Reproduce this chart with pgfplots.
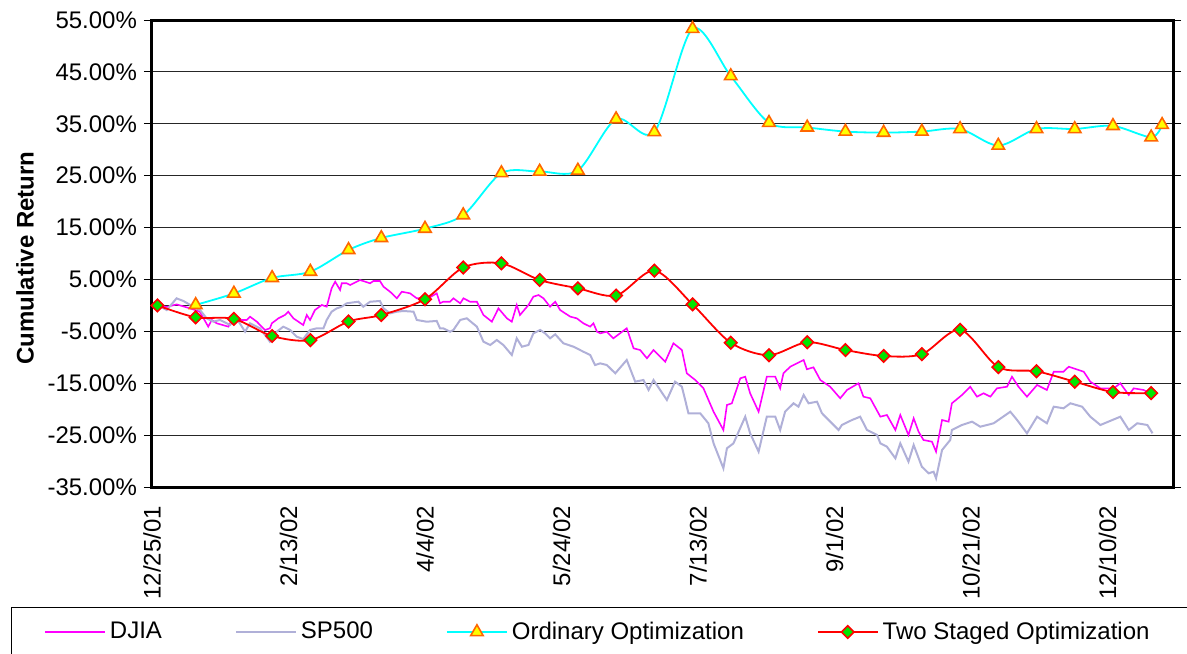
\documentclass[border=0pt]{standalone}
\usepackage{fontspec}
\setmainfont{Liberation Sans}
\usepackage{pgfplots}
\pgfplotsset{compat=1.18}
\definecolor{djia}{RGB}{255,0,255}
\definecolor{spx}{RGB}{176,176,216}
\definecolor{ordc}{RGB}{0,255,255}
\definecolor{triyel}{RGB}{255,255,0}
\definecolor{triorg}{RGB}{255,102,0}
\definecolor{twoc}{RGB}{255,0,0}
\definecolor{dgreen}{RGB}{0,230,0}
\pgfplotsset{
  lineleg/.style={legend image code/.code={\draw[##1] (0pt,0pt) -- (30pt,0pt);}},
  markleg/.style={legend image code/.code={\draw[mark repeat=2,mark phase=2,##1] plot coordinates {(0pt,0pt) (15pt,0pt) (30pt,0pt)};}},
}
\begin{document}
\begin{tikzpicture}
\begin{axis}[
  at={(0,0)}, anchor=south west,
  scale only axis, width=510.5pt, height=233.5pt,
  xmin=0, xmax=374, ymin=-35, ymax=55,
  xtick={0,50,100,150,200,250,300,350},
  xticklabels={12/25/01,2/13/02,4/4/02,5/24/02,7/13/02,9/1/02,10/21/02,12/10/02},
  ytick={-35,-25,-15,-5,5,15,25,35,45,55},
  yticklabels={-35.00\%,-25.00\%,-15.00\%,-5.00\%,5.00\%,15.00\%,25.00\%,35.00\%,45.00\%,55.00\%},
  ymajorgrids, major grid style={black!85, line width=0.5pt},
  extra y ticks={0}, extra y tick labels={}, extra y tick style={major tick length=0pt, grid=major},
  axis line style={line width=1.5pt},
  tick align=outside,
  major tick length=4pt,
  ytick style={black, line width=0.5pt},
  xtick style={draw=none},
  tick label style={font=\fontsize{12}{14}\selectfont},
  xticklabel style={yshift=-2pt, rotate=90, anchor=east},
  ylabel={Cumulative Return},
  ylabel style={font=\fontsize{12}{14}\selectfont\bfseries, at={(axis description cs:-0.1244,0.49)}, anchor=center},
  legend columns=4,
  legend style={at={(-0.1058,-0.3105)}, anchor=west, draw=none, fill=none, inner sep=0pt,
    font=\fontsize{12}{14}\selectfont,
    /tikz/every even column/.append style={column sep=34.5pt}},
  legend cell align=left,
]
\addplot[djia, line width=0.8pt, lineleg] table {
2.3 -0.05
5.5 -0.3
9.0 0.2
13.9 -0.57
17.5 -1.2
20.6 -4.10
21.9 -2.81
23.7 -3.45
28.0 -4.10
29.2 -2.81
34.7 -2.81
35.9 -2.17
38.4 -3.14
41.4 -4.74
43.2 -4.42
43.9 -3.45
46.3 -2.49
48.7 -1.85
49.9 -1.21
51.8 -2.49
55.4 -3.78
56.7 -1.85
57.9 -2.81
59.7 -0.89
62.2 0.08
64.0 -0.25
65.8 3.30
67.1 4.57
68.9 2.97
69.5 4.26
71.3 4.26
72.6 3.93
76.2 4.89
79.9 4.26
81.1 4.70
83.5 4.70
84.8 3.60
87.2 2.64
89.7 1.37
91.5 2.64
94.5 2.33
97.0 1.37
98.2 1.37
101.2 1.37
104.3 2.33
105.5 0.40
106.7 0.71
109.2 0.71
110.4 1.37
112.9 0.40
114.1 1.37
116.5 0.71
119.0 0.71
121.4 -1.85
124.5 -3.14
126.9 -0.57
130.0 -2.49
131.8 -3.14
133.6 0.08
134.8 -1.85
137.9 0.08
139.7 1.68
141.6 2.00
143.4 1.37
145.8 -0.25
147.7 0.71
149.5 -0.89
153.2 -2.17
155.6 -2.49
158.0 -3.45
160.5 -4.10
161.7 -3.45
163.0 -5.07
164.2 -5.38
166.6 -5.07
169.0 -6.34
173.9 -4.41
176.4 -8.27
178.8 -8.60
181.3 -10.19
183.7 -8.60
188.0 -10.85
191.0 -7.30
194.1 -8.60
195.9 -13.09
199.0 -14.38
202.0 -15.98
205.7 -20.49
209.3 -24.01
210.6 -19.19
212.4 -18.87
215.5 -14.05
217.3 -13.74
219.1 -16.94
222.2 -20.49
225.2 -13.74
228.3 -13.74
230.1 -15.98
231.3 -13.09
233.8 -11.81
238.7 -10.52
239.9 -12.31
242.3 -11.93
244.8 -14.38
248.4 -15.67
252.1 -17.90
254.6 -16.30
258.8 -15.01
260.6 -17.59
263.1 -17.90
266.8 -21.45
269.2 -21.12
272.3 -24.01
274.1 -21.12
277.1 -24.98
279.0 -21.76
280.8 -24.34
282.6 -25.94
285.7 -26.27
287.2 -28.19
289.4 -22.09
291.8 -22.41
293.0 -18.87
296.7 -17.27
299.7 -15.67
302.2 -17.59
304.6 -16.94
307.1 -17.59
309.5 -15.98
313.2 -15.67
315.0 -13.74
317.4 -15.67
320.5 -17.59
324.2 -15.34
327.8 -16.30
330.3 -12.78
333.9 -12.78
335.8 -11.81
341.3 -12.78
343.7 -14.70
347.4 -15.98
352.3 -15.98
354.7 -15.01
357.8 -17.27
359.6 -15.98
363.2 -16.30
365.7 -16.94
};
\addlegendentry{DJIA}
\addplot[spx, line width=1pt, lineleg] table {
2.3 0
5.4 -0.89
9.0 1.36
11.5 0.85
15.1 -0.25
17.6 -0.89
20.0 -2.49
22.5 -3.14
24.9 -2.81
28.6 -3.78
31.0 -2.49
34.1 -5.07
35.9 -3.45
39.6 -4.42
43.2 -6.99
45.7 -5.07
48.1 -4.10
50.6 -4.74
53.0 -6.03
55.4 -6.48
57.9 -4.74
60.3 -4.42
62.8 -4.42
64.0 -2.81
65.8 -1.21
67.7 -0.57
69.5 -0.25
71.3 0.40
73.8 0.59
75.6 0.71
77.4 -0.25
79.9 0.71
83.5 0.85
84.8 -0.57
87.2 -1.53
89.7 -1.21
92.1 -1.08
95.8 -1.21
97.0 -2.81
100.6 -3.14
104.3 -3.00
105.5 -4.42
106.7 -4.42
109.2 -5.07
110.4 -4.74
112.9 -2.81
115.3 -2.49
119.0 -4.10
121.4 -6.99
123.9 -7.63
126.3 -6.67
128.7 -7.63
131.8 -9.56
133.6 -6.35
135.5 -7.96
137.9 -7.63
139.7 -5.38
142.2 -4.74
144.0 -5.38
145.8 -6.35
147.7 -5.58
150.7 -7.31
154.4 -7.96
158.0 -8.92
160.5 -9.56
162.3 -11.49
164.2 -11.17
166.6 -11.49
169.7 -13.09
173.9 -10.52
177.0 -14.70
180.0 -14.38
181.9 -16.30
183.7 -14.38
188.6 -18.23
191.6 -14.70
194.1 -15.67
196.5 -20.79
200.8 -20.79
203.8 -22.72
205.7 -26.58
209.3 -31.39
210.6 -27.54
213.0 -26.58
217.3 -21.45
219.1 -24.65
222.2 -28.19
225.2 -21.45
228.3 -21.45
230.1 -24.01
231.9 -20.49
235.0 -18.87
236.8 -19.52
238.7 -17.27
240.5 -18.87
243.6 -18.56
245.4 -20.79
251.5 -24.01
252.7 -23.05
256.4 -22.09
259.4 -21.45
261.9 -24.01
265.6 -24.98
266.8 -26.58
269.2 -27.23
272.3 -29.47
274.1 -26.58
277.1 -30.12
279.0 -26.90
282.0 -31.09
284.5 -32.36
286.3 -32.05
287.2 -33.32
289.4 -27.87
292.4 -25.94
293.0 -24.01
296.7 -23.05
300.4 -22.41
303.4 -23.38
308.3 -22.72
314.4 -20.49
316.9 -22.09
320.5 -24.65
324.2 -21.45
327.8 -22.72
330.3 -19.52
333.9 -19.83
336.4 -18.87
340.7 -19.52
343.7 -21.45
347.4 -23.05
354.7 -21.45
357.8 -24.01
360.9 -22.72
364.6 -23.05
366.5 -24.65
};
\addlegendentry{SP500}
\addplot[ordc, line width=0.9pt, smooth, tension=0.5, mark=triangle*, mark size=3.6pt,
  mark options={fill=triyel, draw=triorg, line width=0.8pt}, markleg] table {
16 0.1
30 2.3
44 5.3
58 6.5
72 10.7
84 13.0
100 14.8
114 17.4
128 25.5
142 25.8
156 26.0
170 35.9
184 33.4
198 53.3
212 44.2
226 35.2
240 34.3
254 33.5
268 33.3
282 33.5
296 34.0
310 30.8
324 34.0
338 34.0
352 34.6
366 32.4
370 34.8
};
\addlegendentry{Ordinary Optimization}
\addplot[twoc, line width=0.9pt, smooth, tension=0.5, mark=square*, mark size=2.2pt,
  mark options={fill=dgreen, draw=twoc, line width=0.8pt, rotate=45}, markleg] table {
2 0.0
16 -2.3
30 -2.6
44 -5.9
58 -6.7
72 -3.1
84 -1.85
100 1.2
114 7.3
128 8.1
142 4.9
156 3.3
170 1.9
184 6.7
198 0.2
212 -7.2
226 -9.6
240 -7.1
254 -8.6
268 -9.75
282 -9.4
296 -4.7
310 -11.9
324 -12.7
338 -14.7
352 -16.7
366 -16.9
};
\addlegendentry{Two Staged Optimization}
\end{axis}
\draw[black, line width=0.5pt] (-70pt,-60pt) rectangle (540pt,-110pt);
\pgfresetboundingbox
\path[use as bounding box] (-76pt,-83pt) rectangle (517.5pt,243.5pt);
\end{tikzpicture}
\end{document}
